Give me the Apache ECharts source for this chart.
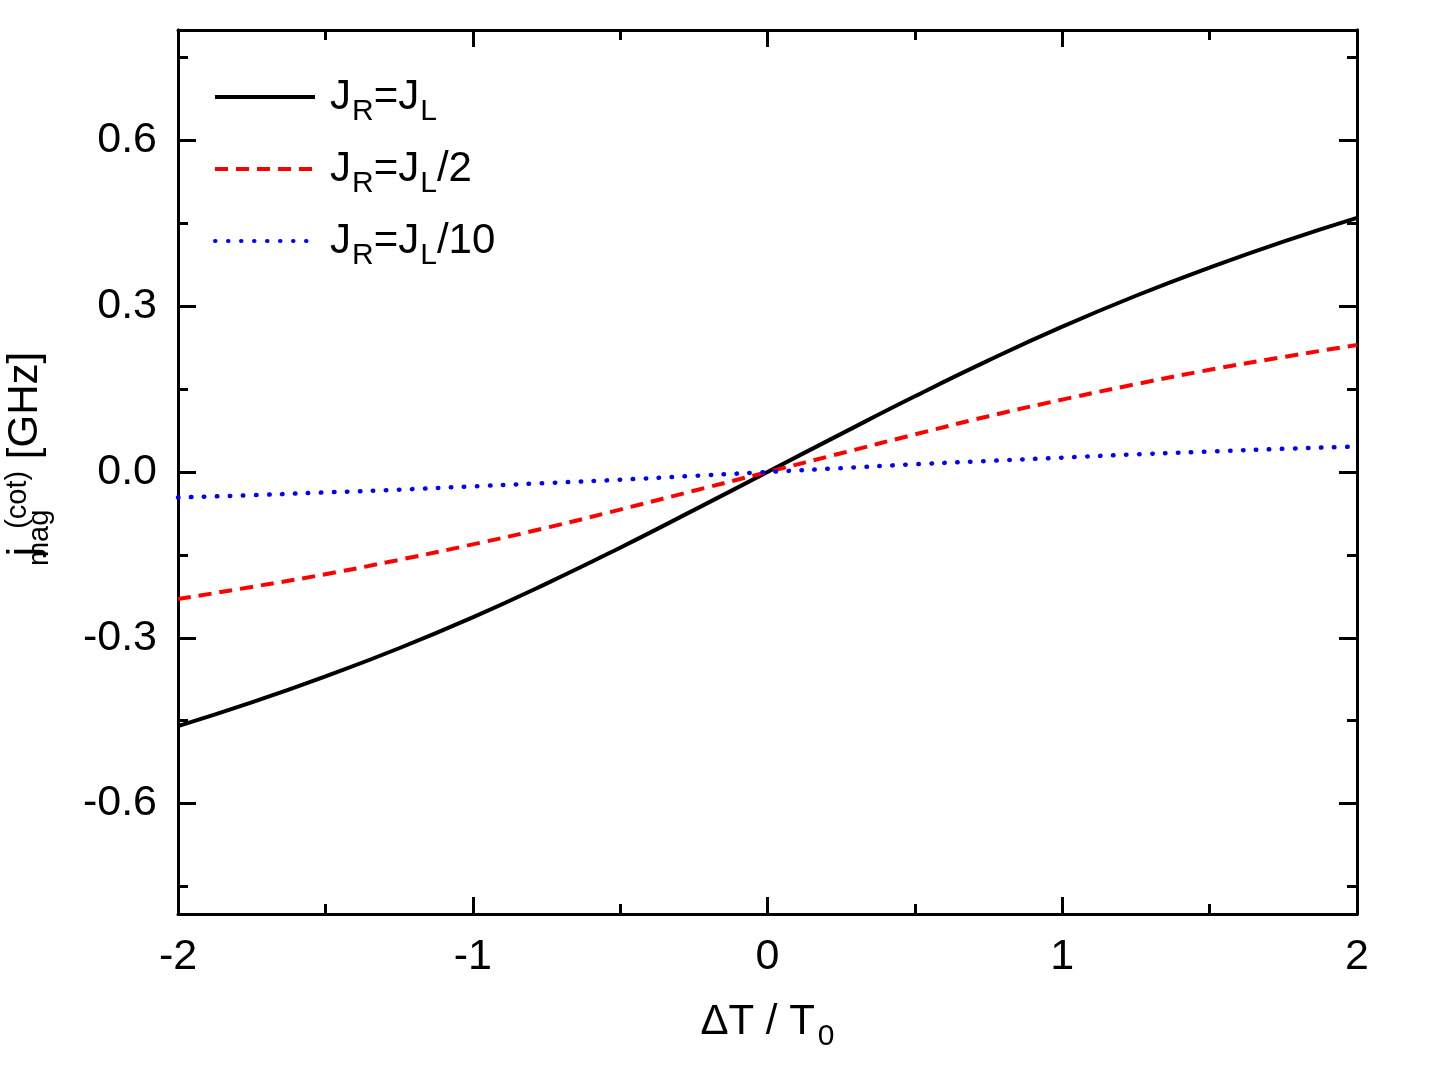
<!DOCTYPE html>
<html><head><meta charset="utf-8">
<script src="https://cdn.jsdelivr.net/npm/echarts@6/dist/echarts.min.js"></script>
<style>html,body{margin:0;padding:0;background:#fff}#c{width:1442px;height:1073px}</style>
</head><body><div id="c"></div>
<script>
const xVals = [-2,-1.75,-1.5,-1.25,-1,-0.75,-0.5,-0.25,0,0.25,0.5,0.75,1,1.25,1.5,1.75,2];
const jEqual = [-0.460,-0.417,-0.370,-0.319,-0.263,-0.202,-0.137,-0.069,0,0.069,0.137,0.202,0.263,0.319,0.370,0.417,0.460];
const jHalf = [-0.230,-0.208,-0.185,-0.159,-0.131,-0.101,-0.068,-0.034,0,0.034,0.068,0.101,0.131,0.159,0.185,0.208,0.230];
const jTenth = [-0.046,-0.042,-0.037,-0.032,-0.026,-0.020,-0.014,-0.007,0,0.007,0.014,0.020,0.026,0.032,0.037,0.042,0.046];
const yMajor = [-0.6,-0.3,0,0.3,0.6];
const yMinor = [-0.75,-0.45,-0.15,0.15,0.45,0.75];
const seriesNames = ['J_R=J_L','J_R=J_L/2','J_R=J_L/10'];
const legendRich = {'J_R=J_L':'J{s|R}=J{s|L}','J_R=J_L/2':'J{s|R}=J{s|L}/2','J_R=J_L/10':'J{s|R}=J{s|L}/10'};

const FONT = '"Liberation Sans", Arial, sans-serif';
const chart = echarts.init(document.getElementById('c'), null, {renderer:'canvas'});
const lineCol = '#000';
function pair(arr){ return xVals.map((x,i)=>[x,arr[i]]); }
function yAx(pos, vals, len, labels, extra){
  return Object.assign({
    type:'value', position:pos, min:-0.8, max:0.8,
    axisLine:{show:true, onZero:false, lineStyle:{color:lineCol,width:3}},
    axisTick:{show:true, inside:true, length:len, customValues:vals, lineStyle:{color:lineCol,width:3}},
    axisLabel:{show:labels, customValues:vals, color:'#000', fontSize:43, fontFamily:FONT, margin:21,
      formatter:v=>v.toFixed(1)},
    splitLine:{show:false}
  }, extra||{});
}
const subStyle = {fontSize:30, fontFamily:FONT, color:'#000', verticalAlign:'top', padding:[22,0,0,1], lineHeight:28};
const option = {
  backgroundColor:'#fff',
  animation:false,
  grid:{left:178, right:85, top:30, bottom:159, containLabel:false, outerBoundsMode:'none'},
  legend:{
    show:true, orient:'vertical', left:208, top:70, itemWidth:100, itemHeight:14, itemGap:20,
    data:seriesNames,
    formatter:n=>legendRich[n],
    itemStyle:{opacity:0},
    lineStyle:{width:4},
    textStyle:{color:'#000', fontSize:42, fontFamily:FONT, lineHeight:44, padding:[0,0,0,10],
      rich:{s:subStyle}}
  },
  xAxis:[
    {type:'value', position:'bottom', min:-2, max:2, interval:1,
      axisLine:{show:true,onZero:false,lineStyle:{color:lineCol,width:3}},
      axisTick:{show:true,inside:true,length:17,lineStyle:{color:lineCol,width:3}},
      minorTick:{show:true,splitNumber:2,length:10,lineStyle:{color:lineCol,width:3}},
      axisLabel:{color:'#000',fontSize:43,fontFamily:FONT,margin:22},
      splitLine:{show:false}, minorSplitLine:{show:false},
      name:'ΔT / T{s|0}', nameLocation:'middle', nameGap:86,
      nameTextStyle:{color:'#000',fontSize:42,fontFamily:FONT,lineHeight:44,
        rich:{s:{fontSize:30,fontFamily:FONT,color:'#000',verticalAlign:'top',padding:[22,0,0,3],lineHeight:28}}}
    },
    {type:'value', position:'top', min:-2, max:2, interval:1,
      axisLine:{show:true,onZero:false,lineStyle:{color:lineCol,width:3}},
      axisTick:{show:true,inside:true,length:17,lineStyle:{color:lineCol,width:3}},
      minorTick:{show:true,splitNumber:2,length:10,lineStyle:{color:lineCol,width:3}},
      axisLabel:{show:false}, splitLine:{show:false}, minorSplitLine:{show:false}}
  ],
  yAxis:[
    yAx('left', yMajor, 18, true, {
      name:'j{sub|mag}{sup|(cot)} [GHz]', nameLocation:'middle', nameRotate:90, nameGap:131,
      nameTextStyle:{color:'#000',fontSize:42,fontFamily:FONT,lineHeight:44, padding:[0,0,0,36],
        rich:{
          sub:{fontSize:29,fontFamily:FONT,color:'#000',width:0,align:'left',verticalAlign:'top',padding:[22,0,0,9],lineHeight:28},
          sup:{fontSize:29,fontFamily:FONT,color:'#000',verticalAlign:'top',padding:[0,0,26,9],lineHeight:28}
        }}
    }),
    yAx('left', yMinor, 10, false),
    yAx('right', yMajor, 18, false),
    yAx('right', yMinor, 10, false)
  ],
  series:[
    {name:seriesNames[0], type:'line', data:pair(jEqual), smooth:true, showSymbol:false,
      symbol:'none', lineStyle:{color:'#000', width:4}, itemStyle:{color:'#000'}},
    {name:seriesNames[1], type:'line', data:pair(jHalf), smooth:true, showSymbol:false,
      symbol:'none', lineStyle:{color:'#ff0000', width:4, type:[13,8]}, itemStyle:{color:'#ff0000'}},
    {name:seriesNames[2], type:'line', data:pair(jTenth), smooth:true, showSymbol:false,
      symbol:'none', lineStyle:{color:'#0000ff', width:4.5, type:[0.5,12.5], cap:'round'}, itemStyle:{color:'#0000ff'}}
  ]
};
chart.setOption(option);
</script></body></html>
